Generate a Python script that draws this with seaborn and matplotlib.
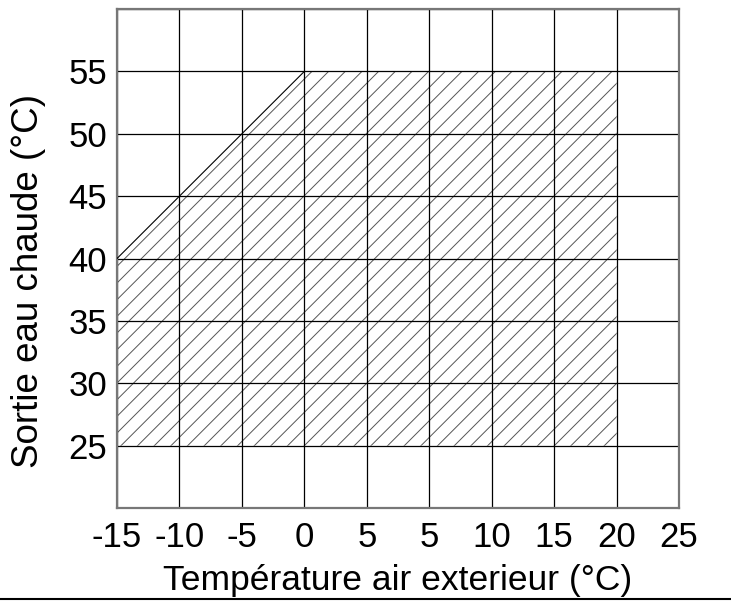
import matplotlib
matplotlib.use("Agg")
import matplotlib.pyplot as plt
from matplotlib.lines import Line2D
import seaborn as sns
import pandas as pd

# tick positions on the axis and the labels printed under them (note the repeated "5")
x_ticks = [-15, -10, -5, 0, 5, 10, 15, 20, 25, 30]
x_tick_labels = ["-15", "-10", "-5", "0", "5", "5", "10", "15", "20", "25"]
y_ticks = [25, 30, 35, 40, 45, 50, 55]
y_grid = [20, 25, 30, 35, 40, 45, 50, 55, 60]

# operating envelope (outdoor air temp position, hot water outlet temp)
env_x = [-15, -10, -5, 0, 25, 25, -15]
env_y = [40, 45, 50, 55, 55, 25, 25]

# slanted edge of the envelope
edge = pd.DataFrame({"x": env_x[:4], "y": env_y[:4]})

sns.set_style("white")
plt.rcParams["font.family"] = ["Liberation Sans", "DejaVu Sans"]
plt.rcParams["hatch.linewidth"] = 0.7

fig = plt.figure(figsize=(7.31, 6.02), dpi=100)
ax = fig.add_axes([0.160, 0.156, 0.769, 0.829])

ax.fill(env_x, env_y, facecolor="white", edgecolor="#555555", linewidth=0,
        hatch="//", zorder=1)
sns.lineplot(data=edge, x="x", y="y", color="black", linewidth=0.8, ax=ax, zorder=3)

for xv in x_ticks:
    ax.axvline(xv, color="black", linewidth=0.9, zorder=2)
for yv in y_grid:
    ax.axhline(yv, color="black", linewidth=0.9, zorder=2)

ax.set_xlim(x_ticks[0], x_ticks[-1])
ax.set_ylim(y_grid[0], y_grid[-1])
ax.set_xticks(x_ticks)
ax.set_xticklabels(x_tick_labels)
ax.set_yticks(y_ticks)
ax.set_yticklabels([str(v) for v in y_ticks])
ax.tick_params(axis="both", length=0, labelsize=25, colors="black")
ax.tick_params(axis="x", pad=9)
ax.tick_params(axis="y", pad=7)

for sp in ax.spines.values():
    sp.set_color("#777777")
    sp.set_linewidth(1.6)

ax.set_xlabel("Température air exterieur (°C)", fontsize=25.5, color="black")
ax.xaxis.set_label_coords(0.5, -0.112)
ax.set_ylabel("Sortie eau chaude (°C)", fontsize=26.5, color="black")
ax.yaxis.set_label_coords(-0.126, 0.455)

fig.add_artist(Line2D([0, 1], [1 - 599 / 602, 1 - 599 / 602], color="black", linewidth=1.5))

fig.savefig("out.png", dpi=100)
